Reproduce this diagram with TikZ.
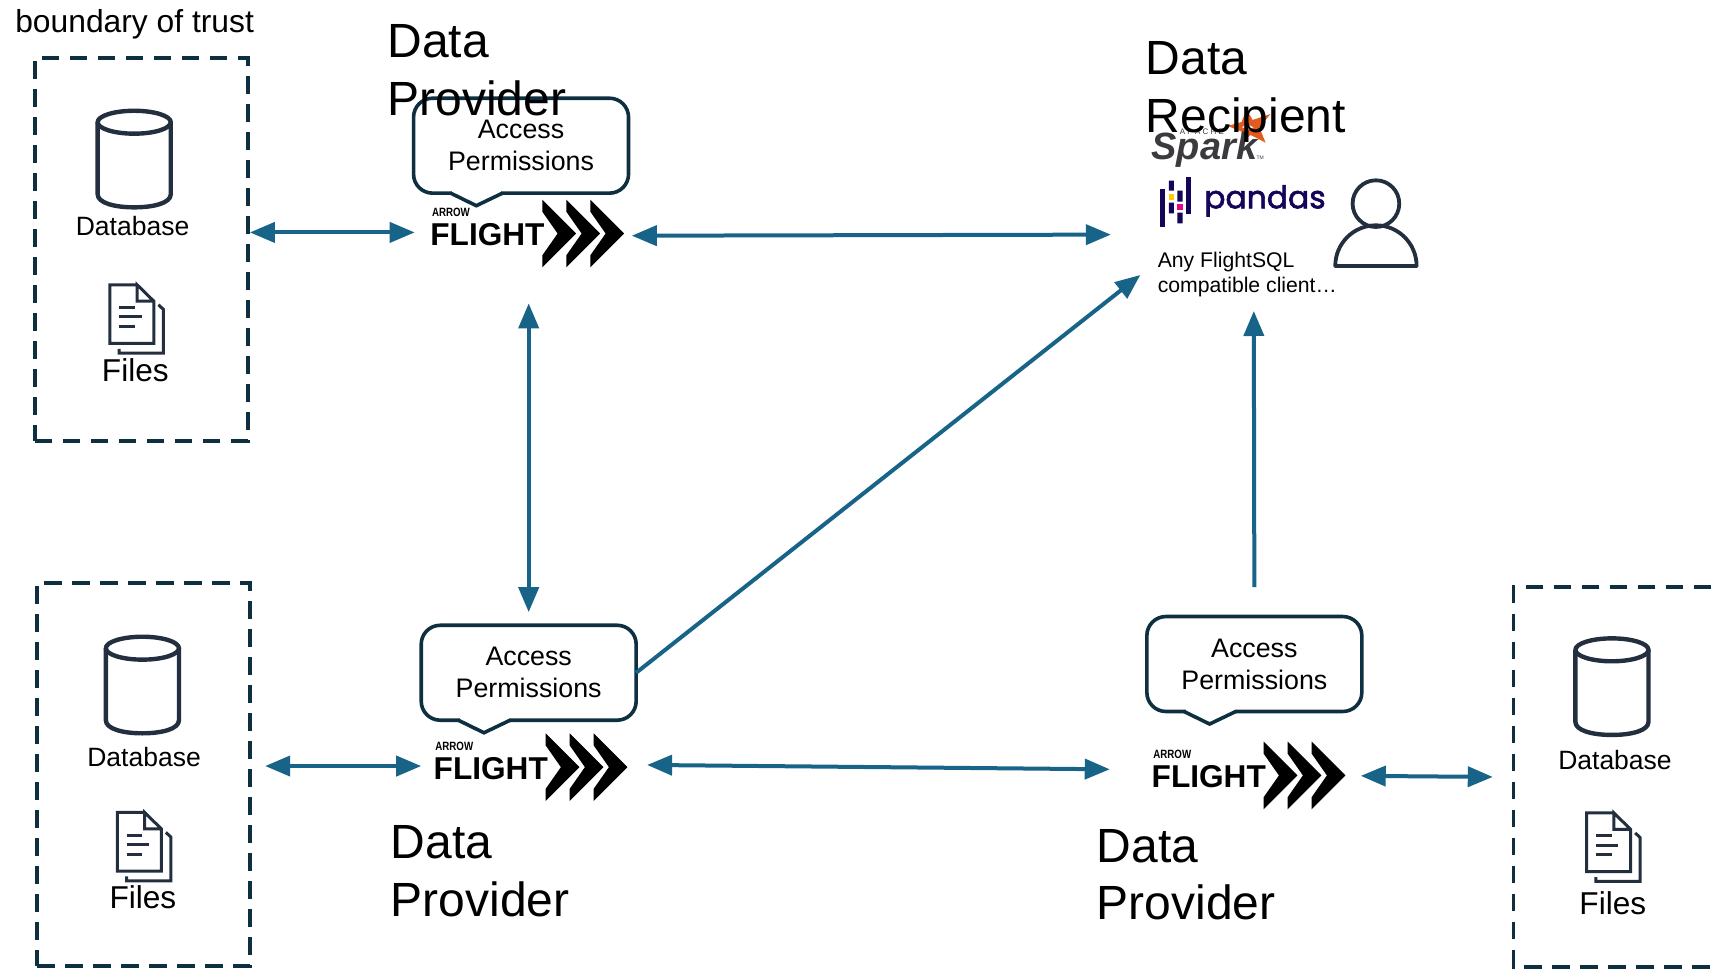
\documentclass[tikz,border=0pt]{standalone}
\usepackage{fontspec}
\setmainfont{Liberation Sans}
\newfontfamily\popfont[FakeBold=2]{Poppins}
\usetikzlibrary{arrows.meta,calc}
\definecolor{edgeblue}{HTML}{186488}
\definecolor{boxdark}{HTML}{0E2F3F}
\definecolor{icondark}{HTML}{232F3E}
\definecolor{sparkgrey}{HTML}{3C3A3E}
\definecolor{sparkorange}{HTML}{E25A1C}
\definecolor{pandasnavy}{HTML}{150458}
\definecolor{pandasyellow}{HTML}{FFCA00}
\definecolor{pandaspink}{HTML}{E70488}
\def\pxu{0.5456pt}
\tikzset{
  x=0.5456pt,y=-0.5456pt,
  txt/.style={inner sep=0pt,outer sep=0pt,text=black},
  big/.style={txt,anchor=base west,font=\fontsize{24}{28}\selectfont},
  dbtxt/.style={txt,anchor=base,font=\fontsize{13.25}{16}\selectfont},
  filetxt/.style={txt,anchor=base,font=\fontsize{15.8}{18}\selectfont},
  trustbox/.style={draw=boxdark,line width=1.9pt,dash pattern=on 8.7pt off 5.3pt,inner sep=0pt,outer sep=0pt},
  acc/.style={draw=boxdark,line width=1.8pt,rounded corners=9.5pt,inner sep=0pt,outer sep=0pt,
    minimum width=197*\pxu,minimum height=87*\pxu,align=center,font=\fontsize{13.4}{16}\selectfont},
  anchorbox/.style={inner sep=0pt,outer sep=0pt},
  flow/.style={draw=edgeblue,line width=2pt},
  both/.style={flow,{Triangle[length=12.5pt,width=10pt]}-{Triangle[length=12.5pt,width=10pt]}},
  oneway/.style={flow,-{Triangle[length=12.5pt,width=10pt]}},
  iconline/.style={draw=icondark,line width=2.2pt,line join=round},
  fileline/.style={draw=icondark,line width=1.5pt,line join=miter},
}
\newcommand{\dbicon}[2]{%
  \begin{scope}[shift={(#1,#2)}]
    \draw[iconline] (35,12) ellipse [x radius=33.5,y radius=10.5];
    \draw[iconline] (1.5,12) -- (1.5,78) .. controls (1.5,86) and (17,90) .. (35,90)
      .. controls (53,90) and (68.5,86) .. (68.5,78) -- (68.5,12);
  \end{scope}}
\newcommand{\fileicon}[2]{%
  \begin{scope}[shift={(#1,#2)}]
    \draw[fileline] (25,0) -- (0,0) -- (0,53.7) -- (40.3,53.7) -- (40.3,15) -- (25,0) -- (25,15) -- (40.3,15);
    \draw[fileline] (8.5,20.8) -- (23,20.8) (8.5,29.4) -- (29,29.4) (8.5,38.5) -- (23,38.5);
    \draw[fileline] (8.5,58.7) -- (8.5,62.7) -- (49,62.7) -- (49,22.5) -- (44.5,18.3);
  \end{scope}}
\newcommand{\flightlogo}[3]{%
  \begin{scope}[shift={(#2,#3)}]
    \foreach \cx in {0,22,44}{
      \fill[black] (\cx,-31) -- (\cx+31,0) -- (\cx,31) -- (\cx,20) -- (\cx+14,0) -- (\cx,-20) -- cycle;}
    \node[txt,anchor=base east,font=\fontsize{15.8}{18}\bfseries\selectfont] (#1f) at (2,11) {FLIGHT};
    \node[txt,anchor=base west,font=\fontsize{6}{7}\bfseries\selectfont] (#1a) at (-101,-15.5) {\scalebox{.81}[1]{ARROW}};
  \end{scope}}
\newcommand{\accesscallout}[3]{%
  \node[acc] (#1) at (#2,#3) {Access\\Permissions};
  \draw[white,line width=2.4pt] ($(#1.south west)+(35.5,0)$) -- ($(#1.south west)+(80.5,0)$);
  \draw[boxdark,line width=1.8pt,line join=miter] ($(#1.south west)+(34,0)$) -- ($(#1.south west)+(57.5,11.5)$) -- ($(#1.south west)+(81.5,0)$);}
\begin{document}
\begin{tikzpicture}
\useasboundingbox (0,0) rectangle (1568,888);
% boundaries
\node[trustbox,minimum width=195*\pxu,minimum height=351*\pxu] (box1) at (129.5,228.5) {};
\node[trustbox,minimum width=195*\pxu,minimum height=351*\pxu] (box2) at (131.5,709.5) {};
\node[anchorbox,minimum width=181*\pxu,minimum height=348*\pxu] (box3) at (1477.5,712) {};
\draw[boxdark,line width=1.9pt,dash pattern=on 8.7pt off 5.3pt] (box3.north east) -- (box3.north west) -- (box3.south west) -- (box3.south east);
\node[txt,anchor=base west,font=\fontsize{15.9}{18}\selectfont] (trust) at (14,30.2) {boundary of trust};
% icons and labels
\dbicon{88}{100}
\fileicon{100.7}{261}
\node[dbtxt] (db1) at (121.5,215.6) {Database};
\node[filetxt] (f1) at (124,349.5) {Files};
\dbicon{95.5}{582}
\fileicon{107.5}{744.5}
\node[dbtxt] (db2) at (132,702) {Database};
\node[filetxt] (f2) at (131,832.2) {Files};
\dbicon{1442.2}{583.5}
\fileicon{1454}{745}
\node[dbtxt] (db3) at (1480,705) {Database};
\node[filetxt] (f3) at (1478,838.2) {Files};
% callouts
\accesscallout{accA}{477.5}{133.5}
\accesscallout{accB}{484.5}{616.5}
\accesscallout{accC}{1149.5}{608.5}
% logos
\flightlogo{logoA}{497}{214}
\flightlogo{logoB}{500}{703}
\flightlogo{logoC}{1158}{710.6}
% connector anchors
\node[anchorbox,minimum width=199*\pxu,minimum height=130*\pxu] (flightA) at (479.5,213) {};
\node[anchorbox,minimum width=207*\pxu,minimum height=40*\pxu] (flightB) at (489.5,702) {};
\node[anchorbox,minimum width=231*\pxu,minimum height=40*\pxu] (flightC) at (1131.5,711) {};
\node[anchorbox,minimum width=262*\pxu,minimum height=140*\pxu] (recip) at (1149,215) {};
\coordinate (recipSW) at (1045,252);
% spark, pandas, person (in 3x crop coordinates)
\begin{scope}[shift={(1008,18.3)},x=0.16665pt,y=-0.16665pt]
  \fill[sparkorange,even odd rule] (440,268) -- (458,300) -- (512,282) -- (478,322) -- (497,368) -- (452,345) -- (425,368) -- (425,335) -- (383,318) -- (425,306) -- cycle
     (440,312) -- (425,322) -- (445,330) -- (462,322) -- cycle;
  \node[txt,anchor=base west,font=\fontsize{19}{20}\bfseries\itshape\selectfont,text=sparkgrey] (spark) at (155,418) {Spark};
  \node[txt,anchor=base west,font=\fontsize{4}{5}\selectfont,text=sparkgrey] (apache) at (240,343) {A P A C H E};
  \node[txt,anchor=base west,font=\fontsize{2.5}{3}\selectfont,text=sparkgrey] (tm) at (470,420) {TM};
  \fill[pandasnavy] (180,508) rectangle (195,620);
  \fill[pandasnavy] (207,482) rectangle (222,512) (207,548) rectangle (222,580);
  \fill[pandasyellow] (207,522) rectangle (222,540);
  \fill[pandasnavy] (232,512) rectangle (248,545) (232,578) rectangle (248,610);
  \fill[pandaspink] (232,553) rectangle (248,570);
  \fill[pandasnavy] (257,472) rectangle (272,582);
  \node[txt,anchor=base west,font=\fontsize{15.7}{18}\popfont,text=pandasnavy] (pandas) at (313,565) {pandas};
  \draw[icondark,line width=1.9pt] (828,551) circle [radius=70];
  \draw[icondark,line width=1.9pt,line join=round] (706,738) arc [start angle=180,end angle=360,radius=122] -- cycle;
\end{scope}
\node[txt,anchor=base west,font=\fontsize{10.6}{12.4}\selectfont] (client1) at (1061,245) {Any FlightSQL};
\node[txt,anchor=base west,font=\fontsize{10.6}{12.4}\selectfont] (client2) at (1061,268) {compatible client…};
% big titles
\node[big] (dpA1) at (355,53) {Data};
\node[big] (dpA2) at (355,106) {Provider};
\node[big] (dr1) at (1050,68) {Data};
\node[big] (dr2) at (1050,121) {Recipient};
\node[big] (dpB1) at (358,787) {Data};
\node[big] (dpB2) at (358,840) {Provider};
\node[big] (dpC1) at (1005,790) {Data};
\node[big] (dpC2) at (1005,843) {Provider};
% connectors
\draw[both] ($(box1.east |- flightA.west)+(2,0)$) -- (flightA.west);
\draw[both] ($(flightA.east)+(0,3)$) -- ($(recip.west)$);
\draw[both] (accB.north |- flightA.south) -- ($(accB.north)+(0,-12)$);
\draw[oneway] (accB.east) -- (recipSW);
\draw[oneway] ($(accC.north)+(0,-27)$) -- (recip.south);
\draw[both] ($(box2.east |- flightB.west)+(14,0)$) -- (flightB.west);
\draw[both] ($(flightB.east)+(0,-1)$) -- ($(flightC.west)+(1,-6)$);
\draw[both] (flightC.east) -- ($(box3.west)+(-19,0)$);
\end{tikzpicture}
\end{document}
